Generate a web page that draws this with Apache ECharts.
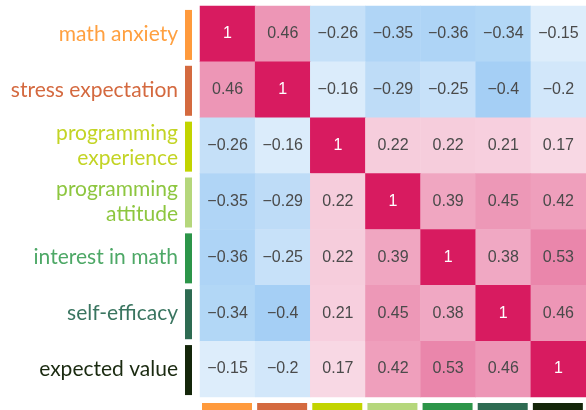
<!DOCTYPE html>
<html>
<head>
<meta charset="utf-8">
<script src="https://cdn.jsdelivr.net/npm/echarts@6/dist/echarts.min.js"></script>
<style>html,body{margin:0;padding:0;background:#fff}#c{width:586px;height:410px}</style>
</head>
<body>
<div id="c"></div>
<script>
var variables = ['math anxiety', 'stress expectation', 'programming experience', 'programming attitude', 'interest in math', 'self-efficacy', 'expected value'];
var rowMathAnxiety = [1, 0.46, -0.26, -0.35, -0.36, -0.34, -0.15];
var rowStress = [0.46, 1, -0.16, -0.29, -0.25, -0.4, -0.2];
var rowProgExp = [-0.26, -0.16, 1, 0.22, 0.22, 0.21, 0.17];
var rowProgAtt = [-0.35, -0.29, 0.22, 1, 0.39, 0.45, 0.42];
var rowInterest = [-0.36, -0.25, 0.22, 0.39, 1, 0.38, 0.53];
var rowSelfEff = [-0.34, -0.4, 0.21, 0.45, 0.38, 1, 0.46];
var rowExpected = [-0.15, -0.2, 0.17, 0.42, 0.53, 0.46, 1];
var matrix = [rowMathAnxiety, rowStress, rowProgExp, rowProgAtt, rowInterest, rowSelfEff, rowExpected];

var textColors = ['#FFA040', '#D4693F', '#C3D425', '#8DC63F', '#4DA866', '#3A7560', '#1A2A10'];
var barColors = ['#FF9A3C', '#D46A3F', '#C2D400', '#B5D77C', '#2C9549', '#2E6B52', '#14260A'];

var heat = [];
matrix.forEach(function (row, i) {
  row.forEach(function (v, j) {
    var item = { value: [j, i, v] };
    if (v === 1) item.label = { color: '#ffffff' };
    heat.push(item);
  });
});

var rich = {};
textColors.forEach(function (c, i) {
  rich['c' + i] = { color: c, fontFamily: 'Lato', fontSize: 21, lineHeight: 25, align: 'right' };
});

var chart = echarts.init(document.getElementById('c'), null, { renderer: 'canvas' });
chart.setOption({
  animation: false,
  grid: { left: 200, top: 6, width: 390, height: 391, containLabel: false },
  xAxis: {
    type: 'category', data: variables, position: 'bottom',
    axisLine: { show: false }, axisTick: { show: false }, axisLabel: { show: false }, splitLine: { show: false }
  },
  yAxis: {
    type: 'category', data: variables, inverse: true,
    axisLine: { show: false }, axisTick: { show: false }, splitLine: { show: false },
    axisLabel: {
      margin: 22,
      formatter: function (name, idx) {
        var i = variables.indexOf(name);
        var parts = name.indexOf('programming') === 0 ? ['programming', name.slice(12)] : [name];
        return parts.map(function (p) { return '{c' + i + '|' + p + '}'; }).join('\n');
      },
      rich: rich
    }
  },
  visualMap: {
    show: false, type: 'continuous', min: -1, max: 1, dimension: 2, seriesIndex: 0,
    inRange: { color: ['#1E88E5', '#ffffff', '#D81B60'] }
  },
  series: [
    {
      type: 'heatmap', data: heat,
      itemStyle: { borderWidth: 0 },
      label: {
        show: true, fontFamily: 'Liberation Sans, Arial, sans-serif', fontSize: 16, color: '#4a4a4a',
        formatter: function (p) { return String(p.value[2]).replace('-', '\u2212'); }
      }
    },
    {
      type: 'custom', clip: false, silent: true,
      data: variables.map(function (n, i) { return [0, i, i]; }),
      renderItem: function (params, api) {
        var c = api.coord([api.value(0), api.value(1)]);
        var s = api.size([1, 1]);
        return {
          type: 'rect',
          shape: { x: c[0] - s[0] / 2 - 15, y: c[1] - 24, width: 7, height: 50 },
          style: { fill: barColors[api.value(2)] }
        };
      }
    },
    {
      type: 'custom', clip: false, silent: true,
      data: variables.map(function (n, j) { return [j, 6, j]; }),
      renderItem: function (params, api) {
        var c = api.coord([api.value(0), api.value(1)]);
        var s = api.size([1, 1]);
        return {
          type: 'rect',
          shape: { x: c[0] - s[0] / 2 + 2, y: c[1] + s[1] / 2 + 6, width: 50, height: 12 },
          style: { fill: barColors[api.value(2)] }
        };
      }
    }
  ]
});
</script>
</body>
</html>
